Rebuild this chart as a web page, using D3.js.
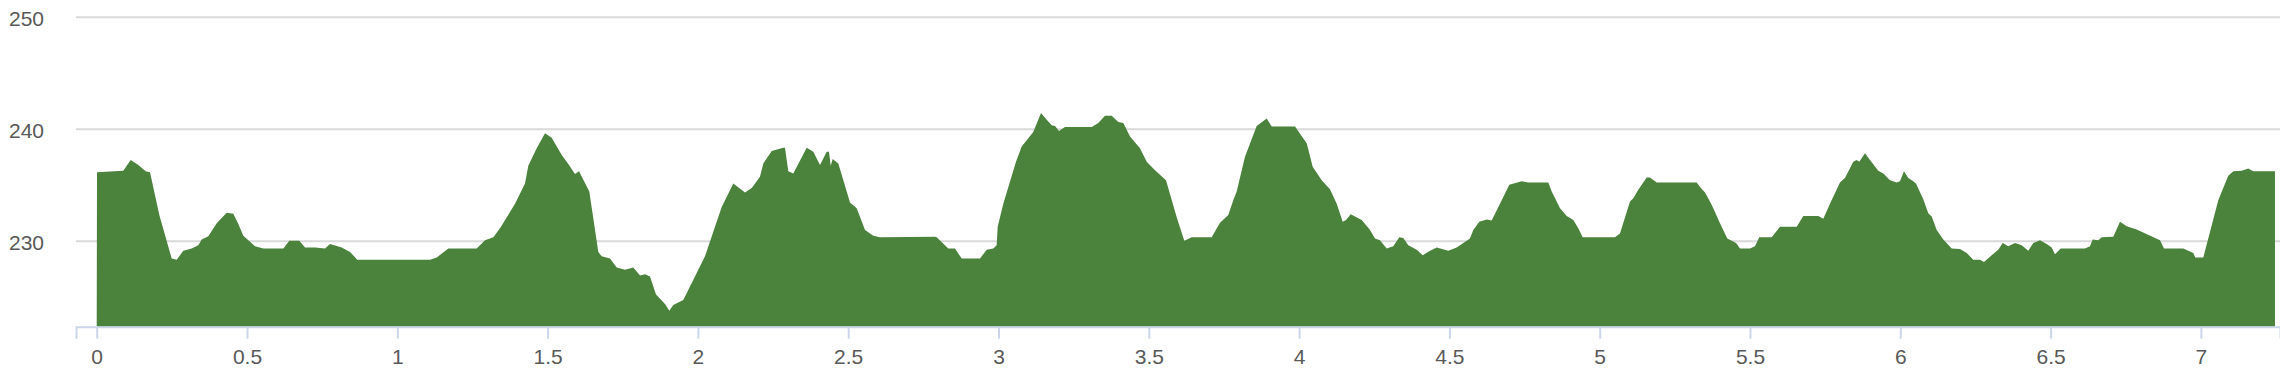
<!DOCTYPE html>
<html>
<head>
<meta charset="utf-8">
<script src="https://cdn.jsdelivr.net/npm/d3@7"></script>
<style>
  body { margin: 0; background: #fff; }
  svg { display: block; font-family: "DejaVu Sans", sans-serif; }
  .grid line { stroke: #d9d9d9; stroke-width: 2; }
  .grid path { display: none; }
  .axis text { fill: #595959; font-size: 21px; }
</style>
</head>
<body>
<div id="chart"></div>
<script>
// distance along the route (km) and elevation (m)
const distanceKm = [
  0, 0.001, 0.0885, 0.1131, 0.1384, 0.163, 0.1773, 0.2083, 0.2495, 0.2661,
  0.2881, 0.316, 0.338, 0.3493, 0.3713, 0.3992, 0.4325, 0.4544, 0.4711, 0.4877,
  0.5266, 0.5542, 0.6208, 0.6407, 0.674, 0.693, 0.7262, 0.7595, 0.7761, 0.815,
  0.8427, 0.8669, 1.1088, 1.1311, 1.1697, 1.2641, 1.2918, 1.3194, 1.3417, 1.3916,
  1.4248, 1.4358, 1.4637, 1.4914, 1.5136, 1.5469, 1.5689, 1.5911, 1.6045, 1.6387,
  1.6687, 1.68, 1.7076, 1.7299, 1.7575, 1.7851, 1.8074, 1.824, 1.8407, 1.8606,
  1.8905, 1.9049, 1.9182, 1.9514, 2.0236, 2.0512, 2.0792, 2.1178, 2.1567, 2.179,
  2.2066, 2.2176, 2.2455, 2.2841, 2.2898, 2.3007, 2.3174, 2.3619, 2.3839, 2.4062,
  2.4285, 2.4361, 2.4418, 2.4484, 2.4671, 2.506, 2.5283, 2.5559, 2.5835, 2.6058,
  2.7887, 2.7944, 2.833, 2.8553, 2.8776, 2.9385, 2.9607, 2.9827, 2.994, 2.9973,
  3.016, 3.0582, 3.0772, 3.1158, 3.1414, 3.1603, 3.177, 3.188, 3.2013, 3.2212,
  3.3101, 3.332, 3.3543, 3.3766, 3.3986, 3.4152, 3.4375, 3.4707, 3.493, 3.5206,
  3.5572, 3.5928, 3.6181, 3.6427, 3.7092, 3.7369, 3.7645, 3.7811, 3.7924, 3.82,
  3.8589, 3.8922, 3.9089, 3.9864, 4.0253, 4.0452, 4.0752, 4.1028, 4.1251, 4.1451,
  4.156, 4.1717, 4.2083, 4.2359, 4.2525, 4.2691, 4.2914, 4.3134, 4.3333, 4.3467,
  4.3633, 4.3912, 4.4112, 4.4355, 4.4578, 4.4963, 4.5243, 4.5685, 4.5795, 4.5995,
  4.6241, 4.6407, 4.674, 4.6993, 4.7405, 4.7625, 4.829, 4.8403, 4.857, 4.8679,
  4.8902, 4.9122, 4.9288, 4.9434, 5.0509, 5.0675, 5.1008, 5.1118, 5.1284, 5.1563,
  5.1673, 5.1896, 5.3227, 5.3337, 5.3503, 5.3726, 5.4002, 5.4245, 5.4535, 5.4668,
  5.5, 5.5166, 5.5309, 5.5722, 5.5998, 5.6554, 5.6773, 5.7272, 5.7439, 5.7661,
  5.7994, 5.816, 5.8436, 5.855, 5.8636, 5.8826, 5.8992, 5.9268, 5.9435, 5.9657,
  5.988, 5.999, 6.0123, 6.0266, 6.0432, 6.0522, 6.0765, 6.0931, 6.1045, 6.1211,
  6.1431, 6.171, 6.1986, 6.2209, 6.2429, 6.2651, 6.2784, 6.3041, 6.326, 6.3407,
  6.3593, 6.3816, 6.4039, 6.4258, 6.4425, 6.4647, 6.487, 6.5037, 6.5146, 6.5336,
  6.6144, 6.6311, 6.64, 6.6587, 6.67, 6.7086, 6.7309, 6.7531, 6.7864, 6.8639,
  6.8772, 6.9415, 6.9747, 6.9814, 7.008, 7.0579, 7.0911, 7.1078, 7.1357, 7.1577,
  7.1743, 7.2465
];
const elevationM = [
  222.5, 236.1, 236.25, 237.2, 236.75, 236.2, 236.1, 232.3, 228.4, 228.3,
  229.1, 229.3, 229.6, 230.1, 230.4, 231.55, 232.5, 232.4, 231.5, 230.45,
  229.5, 229.3, 229.3, 230.0, 230.0, 229.4, 229.4, 229.3, 229.7, 229.4,
  229.0, 228.3, 228.3, 228.5, 229.3, 229.3, 230.05, 230.3, 231.1, 233.3,
  235.1, 236.7, 238.25, 239.6, 239.2, 237.65, 236.85, 235.95, 236.2, 234.4,
  229.0, 228.6, 228.4, 227.6, 227.4, 227.6, 226.9, 227.0, 226.8, 225.2,
  224.35, 223.75, 224.25, 224.7, 228.6, 230.8, 233.0, 235.1, 234.3, 234.7,
  235.7, 236.9, 238.0, 238.3, 238.3, 236.2, 236.0, 238.3, 237.95, 236.75,
  237.95, 237.95, 236.7, 237.3, 236.9, 233.4, 232.9, 230.95, 230.45, 230.3,
  230.35, 230.3, 229.3, 229.3, 228.4, 228.4, 229.2, 229.3, 229.6, 231.25,
  233.3, 237.05, 238.4, 239.7, 241.4, 240.8, 240.3, 240.25, 239.8, 240.15,
  240.15, 240.5, 241.15, 241.15, 240.6, 240.5, 239.3, 238.25, 237.05, 236.3,
  235.4, 232.1, 230.0, 230.3, 230.3, 231.6, 232.3, 233.6, 234.4, 237.5,
  240.25, 240.9, 240.2, 240.2, 238.7, 236.6, 235.4, 234.6, 233.3, 231.7,
  231.85, 232.35, 231.85, 230.95, 230.2, 230.05, 229.3, 229.5, 230.3, 230.25,
  229.6, 229.2, 228.7, 229.1, 229.4, 229.1, 229.4, 230.2, 230.95, 231.7,
  231.9, 231.8, 233.6, 235.0, 235.3, 235.2, 235.2, 234.4, 233.5, 232.9,
  232.2, 231.85, 231.1, 230.3, 230.3, 230.65, 233.5, 233.8, 234.55, 235.65,
  235.65, 235.2, 235.2, 234.8, 234.3, 233.2, 231.55, 230.2, 229.8, 229.3,
  229.3, 229.5, 230.3, 230.3, 231.25, 231.25, 232.2, 232.2, 231.95, 233.3,
  235.2, 235.6, 237.05, 237.2, 237.05, 237.8, 237.2, 236.25, 236.0, 235.4,
  235.2, 235.3, 236.2, 235.6, 235.3, 235.1, 233.7, 232.45, 232.15, 230.95,
  230.1, 229.3, 229.25, 228.9, 228.3, 228.3, 228.1, 228.7, 229.2, 229.8,
  229.5, 229.8, 229.6, 229.1, 229.8, 230.05, 229.7, 229.4, 228.8, 229.3,
  229.3, 229.5, 230.1, 230.05, 230.3, 230.35, 231.7, 231.3, 231.0, 230.05,
  229.3, 229.3, 228.9, 228.5, 228.5, 233.6, 235.8, 236.2, 236.25, 236.45,
  236.2, 236.2
];
const xTicks = [0, 0.5, 1, 1.5, 2, 2.5, 3, 3.5, 4, 4.5, 5, 5.5, 6, 6.5, 7];
const yTicks = [230, 240, 250];

const width = 2280;
const height = 374;
const plotLeft = 76;
const plotRight = 2280;
const plotTop = 16.7;
const plotBottom = 326.7;
const yMin = 222.32;

const points = distanceKm.map((d, i) => ({ d: d, e: elevationM[i] }));

const x = d3.scaleLinear().domain([-0.0689, 7.2632]).range([plotLeft, plotRight]);
const y = d3.scaleLinear().domain([yMin, 250]).range([plotBottom, plotTop]);

const svg = d3.select('#chart')
  .append('svg')
  .attr('width', width)
  .attr('height', height);

// horizontal grid lines
svg.append('g')
  .attr('class', 'grid')
  .attr('transform', 'translate(' + plotLeft + ',0)')
  .call(d3.axisLeft(y).tickValues(yTicks).tickSize(-(plotRight - plotLeft)).tickFormat(''));

// elevation area
const area = d3.area()
  .x(p => x(p.d))
  .y0(y(yMin))
  .y1(p => y(p.e));

svg.append('path')
  .datum(points)
  .attr('d', area)
  .attr('fill', '#4b833d');

// y labels
const yAxis = svg.append('g')
  .attr('class', 'axis')
  .attr('transform', 'translate(' + plotLeft + ',0)')
  .call(d3.axisLeft(y).tickValues(yTicks).tickSize(0).tickPadding(32));
yAxis.select('.domain').remove();
yAxis.selectAll('text').attr('dy', '0.42em');

// x axis
const xAxis = svg.append('g')
  .attr('class', 'axis')
  .attr('transform', 'translate(0,' + plotBottom + ')')
  .call(d3.axisBottom(x).tickValues(xTicks).tickSize(12).tickPadding(10)
    .tickFormat(d => String(d)));
xAxis.select('.domain').attr('stroke', '#ccd6eb').attr('stroke-width', 2);
xAxis.selectAll('.tick line').attr('stroke', '#ccd6eb').attr('stroke-width', 2);
xAxis.selectAll('text').attr('dy', '0.72em');
</script>
</body>
</html>
